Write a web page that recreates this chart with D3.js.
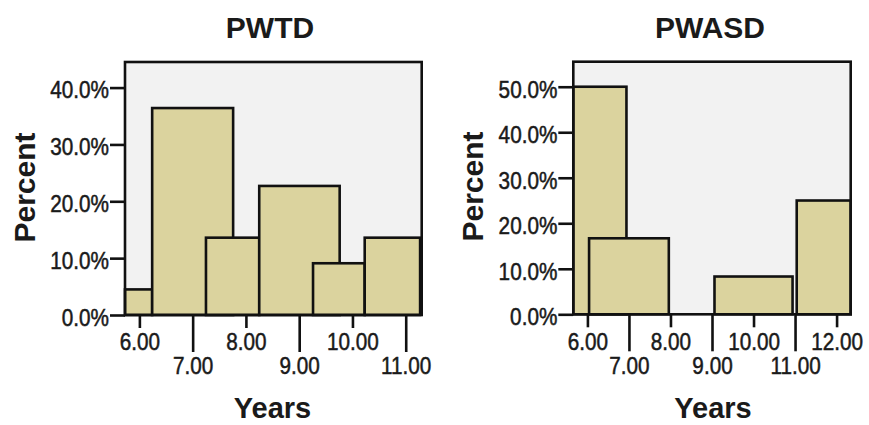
<!DOCTYPE html>
<html>
<head>
<meta charset="utf-8">
<script src="https://cdn.jsdelivr.net/npm/d3@7"></script>
<style>
  body { margin: 0; background: #fff; }
  svg text { font-family: "Liberation Sans", Arial, sans-serif; fill: #1a1a1a; }
</style>
</head>
<body>
<div id="chart"></div>
<script>
// PWTD histogram: bar edges (years) and percent
const pwtdStart = [5.73, 6.24, 7.25, 8.25, 9.26, 10.23];
const pwtdEnd   = [6.24, 7.76, 8.25, 9.76, 10.23, 11.27];
const pwtdPct   = [4.5, 36.4, 13.6, 22.7, 9.1, 13.6];
const pwtdXTicks = [6, 7, 8, 9, 10, 11];
const pwtdYTicks = [0, 10, 20, 30, 40];

// PWASD histogram
const pwasdStart = [5.66, 6.04, 9.06, 11.04];
const pwasdEnd   = [6.94, 7.96, 10.94, 12.34];
const pwasdPct   = [50, 16.7, 8.3, 25];
const pwasdXTicks = [6, 7, 8, 9, 10, 11, 12];
const pwasdYTicks = [0, 10, 20, 30, 40, 50];

const svgWidth = 869;
const svgHeight = 425;
const labelSize = 23;
const squeeze = 0.9; // tick labels are a bit narrow in the original

let mySvg = d3.select("#chart")
    .append("svg")
    .attr("width", svgWidth)
    .attr("height", svgHeight);

function drawPanel(opt) {
    const x = d3.scaleLinear().domain(opt.xDomain).range([opt.left, opt.right]);
    const y = d3.scaleLinear().domain([0, opt.yMax]).range([opt.bottom, opt.top]);

    let g = mySvg.append("g");

    // plot background
    g.append("rect")
        .attr("x", opt.left)
        .attr("y", opt.top)
        .attr("width", opt.right - opt.left)
        .attr("height", opt.bottom - opt.top)
        .style("fill", "#f2f2f2");

    const bars = opt.start.map(function (s, i) {
        return {x0: s, x1: opt.end[i], pct: opt.pct[i]};
    });

    g.selectAll("rect.bar")
        .data(bars)
        .enter()
        .append("rect")
        .attr("class", "bar")
        .attr("x", d => x(d.x0))
        .attr("y", d => y(d.pct))
        .attr("width", d => x(d.x1) - x(d.x0))
        .attr("height", d => y(0) - y(d.pct))
        .style("fill", "#dbd39e")
        .style("stroke", "#111")
        .style("stroke-width", 2.6);

    // frame
    g.append("rect")
        .attr("x", opt.left)
        .attr("y", opt.top)
        .attr("width", opt.right - opt.left)
        .attr("height", opt.bottom - opt.top)
        .style("fill", "none")
        .style("stroke", "#111")
        .style("stroke-width", 2.6);

    // y axis
    let yAxis = d3.axisLeft(y)
        .tickValues(opt.yTicks)
        .tickFormat(d => d.toFixed(1) + "%")
        .tickSize(15)
        .tickSizeOuter(0)
        .tickPadding(1);
    let ya = g.append("g")
        .attr("transform", "translate(" + opt.left + ",0)")
        .call(yAxis);
    ya.select(".domain").remove();
    ya.selectAll("line").style("stroke", "#111").style("stroke-width", 2.6);
    ya.selectAll("text")
        .style("font-size", labelSize + "px")
        .style("stroke", "#1a1a1a")
        .style("stroke-width", 0.5)
        .attr("x", -16 / squeeze)
        .attr("dy", "0.45em")
        .attr("transform", "scale(" + squeeze + ",1)");

    // x axis: staggered short/long ticks
    const evenTicks = opt.xTicks.filter((t, i) => i % 2 == 0);
    const oddTicks = opt.xTicks.filter((t, i) => i % 2 == 1);
    [[evenTicks, 13, 6], [oddTicks, 37, 6]].forEach(function (cfg) {
        let xAxis = d3.axisBottom(x)
            .tickValues(cfg[0])
            .tickFormat(d3.format(".2f"))
            .tickSize(cfg[1])
            .tickSizeOuter(0)
            .tickPadding(cfg[2]);
        let xa = g.append("g")
            .attr("transform", "translate(0," + opt.bottom + ")")
            .call(xAxis);
        xa.select(".domain").remove();
        xa.selectAll("line").style("stroke", "#111").style("stroke-width", 2.6);
        xa.selectAll("text")
            .style("font-size", labelSize + "px")
            .style("stroke", "#1a1a1a")
            .style("stroke-width", 0.5)
            .attr("transform", "scale(" + squeeze + ",1)");
    });

    // title
    g.append("text")
        .text(opt.title)
        .attr("x", opt.titleX)
        .attr("y", 38)
        .attr("text-anchor", "middle")
        .style("font-size", "30px")
        .style("font-weight", "bold");

    // axis titles
    g.append("text")
        .text("Years")
        .attr("x", opt.yearsX)
        .attr("y", 418)
        .attr("text-anchor", "middle")
        .style("font-size", "29px")
        .style("font-weight", "bold");

    g.append("text")
        .text("Percent")
        .attr("transform", "translate(" + opt.percentX + "," + opt.percentY + ") rotate(-90)")
        .attr("text-anchor", "middle")
        .style("font-size", "30px")
        .style("font-weight", "bold");
}

drawPanel({
    title: "PWTD",
    start: pwtdStart, end: pwtdEnd, pct: pwtdPct,
    xTicks: pwtdXTicks, yTicks: pwtdYTicks,
    xDomain: [5.73, 11.3], yMax: 44.5,
    left: 125, right: 421.7, top: 62, bottom: 315,
    titleX: 270, yearsX: 272.5, percentX: 35, percentY: 187.5
});

drawPanel({
    title: "PWASD",
    start: pwasdStart, end: pwasdEnd, pct: pwasdPct,
    xTicks: pwasdXTicks, yTicks: pwasdYTicks,
    xDomain: [5.66, 12.34], yMax: 55.5,
    left: 573.3, right: 850.7, top: 61.7, bottom: 314.3,
    titleX: 710, yearsX: 713, percentX: 483, percentY: 186.5
});
</script>
</body>
</html>
